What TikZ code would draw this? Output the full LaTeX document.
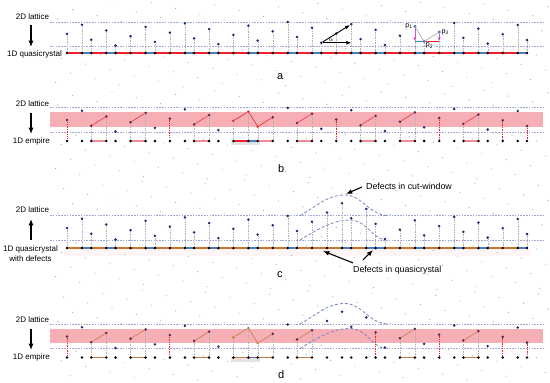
\documentclass[tikz,border=0pt]{standalone}
\usepackage{fontspec}
\setmainfont{Liberation Sans}
\usetikzlibrary{arrows.meta,backgrounds,calc,positioning}
\definecolor{QCNavy}{HTML}{1D2870}
\definecolor{QCPurple}{HTML}{5A2250}
\definecolor{QCSteel}{HTML}{5F86C6}
\definecolor{QCRed}{HTML}{F0202E}
\definecolor{QCBlue}{HTML}{4A7DC4}
\definecolor{QCPink}{HTML}{F6AFB4}
\definecolor{QCPinkLine}{HTML}{F08C95}
\definecolor{QCStrip}{HTML}{9CA6D2}
\definecolor{QCWindow}{HTML}{7586C4}
\definecolor{QCOrange}{HTML}{C9772F}
\definecolor{QCBrown}{HTML}{C87A45}
\definecolor{QCOlive}{HTML}{8E8A3A}
\definecolor{QCViolet}{HTML}{7563B5}
\definecolor{QCMagenta}{HTML}{D050C8}
\definecolor{QCGrayDot}{HTML}{A2A2A8}
\tikzset{
  latticedot/.style={circle,fill=QCNavy,inner sep=0pt,minimum size=2.8pt},
  banddot/.style={latticedot,fill=QCPurple},
  chaindot/.style={circle,fill=black,inner sep=0pt,minimum size=2.8pt},
  bgdot/.style={fill=QCGrayDot},
  stripline/.style={draw=QCStrip,line width=0.5pt,dash pattern=on 1.6pt off 1.2pt},
  cutwindow/.style={draw=QCWindow,line width=0.8pt,dash pattern=on 3pt off 2pt},
  dropline/.style={draw=gray!60,line width=0.35pt,dash pattern=on 0.8pt off 0.9pt},
  singledrop/.style={draw=QCRed,line width=1pt,dash pattern=on 1.4pt off 1pt},
  chainline/.style={line width=1.1pt},
  segL/.style={draw=QCRed},
  segS/.style={draw=QCBlue},
  pairline/.style={draw=QCRed,line width=0.5pt},
  pairseg/.style={draw=QCPinkLine,line width=1.6pt},
  brownline/.style={draw=QCBrown,line width=0.6pt},
  brownseg/.style={draw=QCBrown,line width=1.4pt},
  band/.style={fill=QCPink},
  panellabel/.style={font=\fontsize{8}{9.5}\selectfont,inner sep=0pt},
  panelletter/.style={font=\fontsize{11}{13}\selectfont,inner sep=0pt,anchor=base west},
  defectlabel/.style={font=\fontsize{8.8}{10}\selectfont,inner sep=0pt,anchor=base west},
  projarrow/.style={-{Latex[length=2.2mm,width=1.8mm]},line width=1.3pt},
  pointer/.style={-{Latex[length=2.2mm,width=1.7mm]},line width=1.1pt},
  anglearrow/.style={-{Latex[length=1.7mm,width=1.4mm]},line width=0.9pt},
  flip/.style={-{Latex[length=1.4mm,width=1.1mm]},draw=QCMagenta,line width=0.8pt}
}
% x / height above the chain / step type
\def\qcnormal{67.0/34.0/o, 82.0/24.7/L, 91.3/39.7/S, 106.3/30.5/L, 115.6/45.5/S, 130.6/36.2/L,
  145.6/26.9/L, 154.9/41.9/S, 169.9/32.6/L, 184.9/23.4/L, 194.1/38.4/S, 209.1/29.1/L,
  218.4/44.1/S, 233.4/34.8/L, 248.4/25.6/L, 257.7/40.6/S, 272.7/31.3/L, 287.7/22.0/L,
  297.0/37.0/S, 312.0/27.8/L, 321.3/42.8/S, 336.3/33.5/L, 351.3/24.2/L, 360.6/39.2/S,
  375.6/29.9/L, 384.9/45.0/S, 399.9/35.7/L, 414.9/26.4/L, 424.1/41.4/S, 439.2/32.1/L,
  454.2/22.9/L, 463.4/37.9/S, 478.4/28.6/L, 487.7/43.6/S, 502.7/34.3/L, 517.7/25.0/L, 527.0/40.1/S}
\def\qcdefect{67.0/34.0/o, 82.0/24.7/L, 91.3/39.7/S, 106.3/30.5/L, 115.6/45.5/S, 130.6/36.2/L,
  145.6/26.9/L, 154.9/41.9/S, 169.9/32.6/L, 184.9/23.4/L, 194.1/38.4/S, 209.1/29.1/L,
  218.4/44.1/S, 233.4/34.8/L, 248.4/25.6/L, 257.7/40.6/S, 272.7/31.3/L, 287.7/22.0/L,
  297.0/37.0/S, 312.0/27.8/L, 327.0/18.5/L, 342.0/9.2/L, 351.3/24.2/S, 366.3/14.9/L,
  375.6/29.9/S, 384.9/45.0/S, 399.9/35.7/L, 414.9/26.4/L, 424.1/41.4/S, 439.2/32.1/L,
  454.2/22.9/L, 463.4/37.9/S, 478.4/28.6/L, 487.7/43.6/S, 502.7/34.3/L, 517.7/25.0/L, 527.0/40.1/S}
\begin{document}
\begin{tikzpicture}[x=1pt,y=-1pt]
  \useasboundingbox (0,0) rectangle (550,383);
  \begin{scope}[on background layer]
    \fill[white] (0,0) rectangle (550,383);
    \fill[band] (50,112) rectangle (543,126.5);
    \fill[band] (50,328.5) rectangle (543,343);
    \fill[QCPink!12] (64,248) rectangle (532,256);
    \foreach \sy in {22,46,107,132,215.5,240,324.5,348.5}
      \draw[stripline] (50,\sy) -- (543,\sy);
    % distorted cut-window
    \foreach \sy in {0,108.5}{
      \draw[cutwindow,yshift=-\sy pt] (300,215.5) .. controls (320,204) and (328,195) .. (345,195)
        .. controls (362,195) and (368,214) .. (387,215.5);
      \draw[cutwindow,yshift=-\sy pt] (300,240) .. controls (318,229) and (333,220) .. (350,220)
        .. controls (366,220) and (372,238) .. (385,240);
    }
    % rotated square lattice
    \foreach \off/\plo/\pup in {0/2/88, 86/4/94, 194/-14/96, 302.5/-12.5/78.5}{
      \foreach \gm in {-6,...,26}{
        \pgfmathtruncatemacro\nlo{ceil((\plo-34+9.275*(\gm))/15.007)}
        \pgfmathtruncatemacro\nhi{floor((\pup-34+9.275*(\gm))/15.007)}
        \foreach \gn in {\nlo,...,\nhi}{
          \pgfmathsetmacro\gx{67+15.007*(\gm)+9.275*(\gn)}
          \pgfmathsetmacro\gy{\off+34-9.275*(\gm)+15.007*(\gn)}
          \ifdim\gx pt>52pt\ifdim\gx pt<548pt
            \fill[bgdot] (\gx,\gy) circle[radius=0.55pt];
          \fi\fi
        }
      }
    }
  \end{scope}

  % a
  \node[panellabel,anchor=base] (lata) at (32.5,19.3) {2D lattice};
  \node[panellabel,anchor=base east] (qca) at (62,56) {1D quasicrystal};
  \draw[projarrow] ([xshift=-1.5pt,yshift=-6pt]lata.base) -- ([xshift=-1.5pt,yshift=3pt]lata.base |- qca.north);
  \foreach \qx/\qp/\qt [count=\i] in \qcnormal {
    \node[latticedot] (pa-\i) at (\qx,\qp) {};
    \node[chaindot] (ca-\i) at (\qx,53) {};
  }
  \begin{scope}[on background layer]
    \foreach \qx/\qp/\qt [count=\i] in \qcnormal {
      \draw[dropline] (pa-\i) -- (ca-\i);
      \ifnum\i>1 \pgfmathtruncatemacro\j{\i-1}\draw[chainline,seg\qt] (ca-\j.center) -- (ca-\i.center);\fi
    }
  \end{scope}
  \draw[anglearrow] (pa-21) -- (pa-21 -| pa-23);
  \draw[anglearrow] (pa-21) -- (pa-23);
  \node[font=\fontsize{6}{7}\selectfont,inner sep=0pt] (alpha) at (331,40.2) {$\alpha$};
  \draw[gray!70,line width=0.6pt] (pa-28) -- (pa-29) -- (pa-30);
  \draw[QCBlue,line width=1.4pt] (pa-28 |- pa-29) -- (pa-29);
  \draw[QCRed,line width=1.4pt] (pa-29) -- (pa-30 |- pa-29);
  \draw[flip] (pa-28) -- (pa-28 |- pa-29);
  \draw[flip] (pa-30) -- (pa-30 |- pa-29);
  \foreach \i/\nm in {28/p1,29/p2,30/p3}
    \node[latticedot,fill=QCSteel,minimum size=3.2pt] (\nm) at (pa-\i) {};
  \node[font=\fontsize{7}{8}\selectfont,inner sep=0.3pt,anchor=east] (p1lbl) at (p1.west) {p\textsubscript{1}};
  \node[font=\fontsize{7}{8}\selectfont,inner sep=0.3pt,anchor=north west] (p2lbl) at (p2.south east) {p\textsubscript{2}};
  \node[font=\fontsize{7}{8}\selectfont,inner sep=0.3pt,anchor=west] (p3lbl) at (p3.east) {p\textsubscript{3}};
  \node[panelletter] (lbla) at (277,79) {a};

  % b
  \node[panellabel,anchor=base] (latb) at (32.5,106.5) {2D lattice};
  \node[panellabel,anchor=base east] (empb) at (50,143) {1D empire};
  \draw[projarrow] ([xshift=-1.5pt,yshift=-6.5pt]latb.base) -- ([xshift=-1.5pt,yshift=3pt]latb.base |- empb.north);
  \begin{scope}[spc14/.style={latticedot,fill=QCRed},spc15/.style={latticedot,fill=QCRed},
                spc16/.style={latticedot,fill=QCRed}]
    \foreach \qx/\qp/\qt [count=\i] in \qcnormal {
      \pgfmathsetmacro\qy{\qp+86}
      \pgfmathtruncatemacro\inb{(\qp>25.3)&&(\qp<40.4)}
      \ifnum\inb=1 \def\dotstyle{banddot}\else\def\dotstyle{latticedot}\fi
      \ifnum\i>13 \ifnum\i<17 \edef\dotstyle{spc\i}\fi\fi
      \node[\dotstyle] (pb-\i) at (\qx,\qy) {};
      \node[chaindot] (cb-\i) at (\qx,141) {};
    }
  \end{scope}
  \begin{scope}[on background layer]
    \foreach \i in {3,4,6,7,11,12,14,15,16,17,19,20,24,25,27,28,32,33}
      \draw[dropline] (pb-\i) -- (cb-\i);
    \foreach \i in {1,9,22,30,35,37}
      \draw[singledrop] (pb-\i) -- (cb-\i);
    \foreach \i/\j in {3/4,6/7,11/12,19/20,24/25,27/28,32/33}{
      \draw[pairline] (pb-\i) -- (pb-\j);
      \draw[pairseg] (cb-\i.center) -- (cb-\j.center);
    }
    \fill[gray!22] ($(cb-14)+(-2,-0.5)$) rectangle ($(cb-16)+(2,4)$);
    \draw[pairline,line width=0.6pt] (pb-14) -- (pb-15) -- (pb-16) -- (pb-17);
    \draw[QCRed,line width=2pt] (cb-14.center) -- (cb-15.center);
    \draw[QCBlue,line width=2pt] (cb-15.center) -- (cb-16.center);
    \draw[pairseg] (cb-16.center) -- (cb-17.center);
  \end{scope}
  \node[panelletter] (lblb) at (278,172) {b};

  % c
  \node[panellabel,anchor=base] (latc) at (32.5,212.7) {2D lattice};
  \node[panellabel,anchor=east,align=center] (qcc) at (58,253.5) {1D quasicrystal\\with defects};
  \draw[projarrow] ([xshift=-1.5pt,yshift=5.5pt]latc.base |- qcc.north) -- ([xshift=-1.5pt,yshift=-6.3pt]latc.base);
  \foreach \qx/\qp/\qt [count=\i] in \qcdefect {
    \pgfmathsetmacro\qy{\qp+194}
    \node[latticedot] (pc-\i) at (\qx,\qy) {};
    \node[chaindot] (cc-\i) at (\qx,248) {};
  }
  \begin{scope}[on background layer,segL/.style={draw=QCOrange}]
    \foreach \qx/\qp/\qt [count=\i] in \qcdefect {
      \draw[dropline] (pc-\i) -- (cc-\i);
      \ifnum\i>1 \pgfmathtruncatemacro\j{\i-1}\draw[chainline,seg\qt] (cc-\j.center) -- (cc-\i.center);\fi
    }
  \end{scope}
  \node[defectlabel] (cutlbl) at (366,189) {Defects in cut-window};
  \coordinate (cuttip) at (346,194);
  \draw[pointer] ([xshift=-4pt,yshift=2pt]cutlbl.base west) -- (cuttip);
  \node[defectlabel] (qclbl) at (353,272) {Defects in quasicrystal};
  \coordinate (qctipa) at (323,251);
  \coordinate (qctipb) at (373,250);
  \draw[pointer] ([yshift=2.5pt]qclbl.north west) -- (qctipa);
  \draw[pointer] ([xshift=10pt,yshift=5.5pt]qclbl.north west) -- (qctipb);
  \node[panelletter] (lblc) at (277,277) {c};

  % d
  \node[panellabel,anchor=base] (latd) at (32.5,322) {2D lattice};
  \node[panellabel,anchor=base east] (empd) at (50,359) {1D empire};
  \draw[projarrow] ([xshift=-1.5pt,yshift=-7pt]latd.base) -- ([xshift=-1.5pt,yshift=3pt]latd.base |- empd.north);
  \begin{scope}[spc14/.style={latticedot,fill=QCOrange},spc15/.style={latticedot,fill=QCOlive},
                spc16/.style={latticedot,fill=QCBrown}]
    \foreach \qx/\qp/\qt [count=\i] in \qcdefect {
      \pgfmathsetmacro\qy{\qp+302.5}
      \pgfmathtruncatemacro\inb{(\qp>25.3)&&(\qp<40.4)}
      \ifnum\inb=1 \def\dotstyle{banddot}\else\def\dotstyle{latticedot}\fi
      \ifnum\i>13 \ifnum\i<17 \edef\dotstyle{spc\i}\fi\fi
      \node[\dotstyle] (pd-\i) at (\qx,\qy) {};
      \node[chaindot] (cd-\i) at (\qx,357.5) {};
    }
  \end{scope}
  \begin{scope}[on background layer]
    \foreach \i in {3,4,6,7,11,12,14,15,16,17,19,20,27,28,32,33}
      \draw[dropline] (pd-\i) -- (cd-\i);
    \foreach \i in {1,9,25,30,35,37}
      \draw[singledrop] (pd-\i) -- (cd-\i);
    \foreach \i/\j in {3/4,6/7,11/12,19/20,27/28,32/33}{
      \draw[brownline] (pd-\i) -- (pd-\j);
      \draw[brownseg] (cd-\i.center) -- (cd-\j.center);
    }
    \fill[gray!22] ($(cd-14)+(-2,-0.5)$) rectangle ($(cd-16)+(2,4)$);
    \draw[brownline] (pd-14) -- (pd-15) -- (pd-16) -- (pd-17);
    \draw[brownseg] (cd-14.center) -- (cd-15.center);
    \draw[QCViolet,line width=1.4pt] (cd-15.center) -- (cd-16.center);
    \draw[brownseg] (cd-16.center) -- (cd-17.center);
  \end{scope}
  \node[panelletter] (lbld) at (278,378) {d};
\end{tikzpicture}
\end{document}
